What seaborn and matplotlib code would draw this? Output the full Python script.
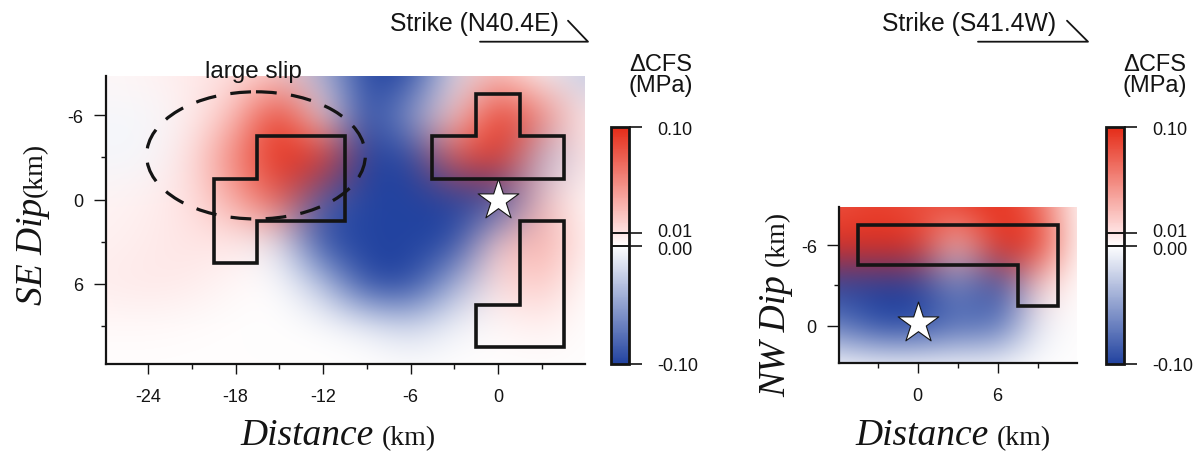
import numpy as np
import matplotlib
matplotlib.use("Agg")
import matplotlib.pyplot as plt
import seaborn as sns
from matplotlib.colors import LinearSegmentedColormap, FuncNorm
from matplotlib.patches import Polygon, Ellipse
from matplotlib.lines import Line2D
from matplotlib.transforms import ScaledTranslation

# ---------------- data ----------------
# Coulomb stress change grid (MPa), left section (SE dip); colours saturate beyond +/-0.10
left_x = [-27, -24, -21, -18, -15, -12, -9, -6, -3, 0, 3, 6]
left_y = [-9, -6, -3, 0, 3, 6, 9, 12]
left_cfs = [
    [0.003, 0.004, 0.008, 0.012, 0.020, -0.040, -0.300, -0.200, -0.015, 0.030, 0.000, -0.030],
    [-0.004, -0.004, 0.006, 0.030, 0.120, 0.005, -0.250, -0.050, 0.015, 0.250, 0.060, 0.006],
    [-0.005, -0.004, 0.012, 0.060, 0.300, 0.250, -0.100, -0.120, 0.080, 0.300, -0.040, 0.012],
    [0.004, 0.006, 0.012, 0.040, 0.080, -0.080, -0.250, -0.250, -0.250, -0.300, 0.030, 0.000],
    [0.005, 0.007, 0.010, 0.008, -0.012, -0.120, -0.300, -0.300, -0.100, 0.020, 0.040, 0.005],
    [0.007, 0.009, 0.007, 0.003, 0.000, -0.030, -0.150, -0.200, -0.040, 0.012, 0.025, 0.000],
    [0.002, 0.002, 0.001, 0.000, 0.000, 0.000, -0.005, -0.020, -0.005, 0.002, 0.006, 0.000],
    [0.000, 0.000, 0.000, 0.000, 0.000, 0.000, 0.000, 0.000, 0.000, 0.000, 0.000, 0.000],
]
# right section (NW dip)
right_x = [-6, -3, 0, 3, 6, 9, 12]
right_y = [-9, -6, -3, 0, 3]
right_cfs = [
    [0.080, 0.090, 0.080, 0.090, 0.100, 0.070, 0.000],
    [0.200, 0.250, 0.120, 0.020, 0.250, 0.200, 0.000],
    [-0.150, -0.250, -0.200, -0.060, -0.150, 0.020, 0.000],
    [-0.070, -0.120, -0.100, -0.080, -0.080, -0.010, 0.000],
    [0.000, 0.000, 0.000, 0.000, 0.000, 0.000, 0.000],
]

# large-slip asperity outlines (km)
left_patch1_x = [-19.5, -19.5, -16.5, -16.5, -10.5, -10.5, -16.5, -16.5]
left_patch1_y = [-1.5, 4.5, 4.5, 1.5, 1.5, -4.5, -4.5, -1.5]
left_patch2_x = [-4.5, -4.5, -1.5, -1.5, 1.5, 1.5, 4.5, 4.5]
left_patch2_y = [-1.5, -4.5, -4.5, -7.5, -7.5, -4.5, -4.5, -1.5]
left_patch3_x = [1.5, 4.5, 4.5, -1.5, -1.5, 1.5]
left_patch3_y = [1.5, 1.5, 10.5, 10.5, 7.5, 7.5]
right_patch_x = [-4.5, 10.5, 10.5, 7.5, 7.5, -4.5]
right_patch_y = [-7.5, -7.5, -1.5, -1.5, -4.5, -4.5]

# large slip region (ellipse centre, width, height in km)
slip_center = (-16.6, -3.15)
slip_size = (15.0, 9.05)
slip_label = "large slip"
slip_label_pos = (-16.8, -9.15)

# hypocentres
left_star_x, left_star_y = [0.0], [0.0]
right_star_x, right_star_y = [0.0], [-0.2]

left_xticks = [-24, -18, -12, -6, 0]
left_xminor = [-21, -15, -9, -3, 3]
left_yticks = [-6, 0, 6]
left_yminor = [-3, 3, 9]
right_xticks = [0, 6]
right_xminor = [-3, 3, 9]
right_yticks = [-6, 0]
right_yminor = [-3]

cbar_ticks = [-0.10, 0.00, 0.01, 0.10]
cbar_ticklabels = ["-0.10", "0.00", "0.01", "0.10"]
cbar_title = "\u0394CFS\n(MPa)"
strike_left = "Strike (N40.4E)"
strike_right = "Strike (S41.4W)"
left_ylabel = ("SE Dip", "(km)")
right_ylabel = ("NW Dip", " (km)")
xlabel = ("Distance", "(km)")

# ---------------- style ----------------
sns.set_theme(style="ticks")
plt.rcParams["font.family"] = ["Liberation Sans", "DejaVu Sans"]
plt.rcParams["axes.unicode_minus"] = False
INK = "#141414"

# colour map with uneven spacing (-0.10 .. 0 .. 0.01 .. 0.10)
cmap = LinearSegmentedColormap.from_list(
    "cfs",
    [(0.0, "#2243a0"), (0.5, "#ffffff"), (0.552, "#ffe4e4"), (1.0, "#e52c18")],
)
_v = [-0.10, 0.0, 0.01, 0.10]
_p = [0.0, 0.5, 0.552, 1.0]
norm = FuncNorm(
    (lambda x: np.interp(np.asarray(x, dtype=float), _v, _p),
     lambda y: np.interp(np.asarray(y, dtype=float), _p, _v)),
    vmin=-0.10, vmax=0.10,
)

W, H = 1199, 452
fig = plt.figure(figsize=(W / 100, H / 100), dpi=100)


def fx(px):
    return px / W


def fy(py):
    return 1 - py / H


axL = fig.add_axes([fx(105.8), fy(365), (584.6 - 105.8) / W, (365 - 77) / H])
axR = fig.add_axes([fx(839), fy(364), (1077 - 839) / W, (364 - 207.7) / H])
caxL = fig.add_axes([fx(610.7), fy(365), (629.3 - 610.7) / W, (365 - 128.3) / H])
caxR = fig.add_axes([fx(1105.7), fy(365), (1124 - 1105.7) / W, (365 - 128.3) / H])


def draw_field(ax, xs, ys, vals):
    xs = np.asarray(xs, float)
    ys = np.asarray(ys, float)
    dx = xs[1] - xs[0]
    dy = ys[1] - ys[0]
    extent = [xs[0] - dx / 2, xs[-1] + dx / 2, ys[-1] + dy / 2, ys[0] - dy / 2]
    im = ax.imshow(np.asarray(vals, float), cmap=cmap, norm=norm, extent=extent,
                   origin="upper", aspect="auto", interpolation="bicubic",
                   interpolation_stage="rgba", zorder=0)
    return im


def outline(ax, px, py):
    ax.add_patch(Polygon(np.column_stack([px, py]), closed=True, fill=False,
                         ec=INK, lw=2.6, joinstyle="miter", zorder=3))


def style_axes(ax, xlim, ylim, xt, xm, yt, ym):
    ax.set_xlim(*xlim)
    ax.set_ylim(ylim[1], ylim[0])
    ax.set_xticks(xt)
    ax.set_xticklabels([str(v) for v in xt])
    ax.set_xticks(xm, minor=True)
    ax.set_yticks(yt)
    ax.set_yticklabels([str(v) for v in yt])
    ax.set_yticks(ym, minor=True)
    sns.despine(ax=ax)
    for s in ("left", "bottom"):
        ax.spines[s].set_linewidth(1.6)
        ax.spines[s].set_color(INK)
    ax.tick_params(axis="x", which="major", length=7, width=1.0, color=INK,
                   labelsize=13, pad=10, labelcolor=INK)
    ax.tick_params(axis="y", which="major", length=9, width=1.0, color=INK,
                   labelsize=13, pad=7, labelcolor=INK)
    ax.tick_params(which="minor", length=3.6, width=1.0, color=INK)
    ax.grid(False)


# left panel
imL = draw_field(axL, left_x, left_y, left_cfs)
outline(axL, left_patch1_x, left_patch1_y)
outline(axL, left_patch2_x, left_patch2_y)
outline(axL, left_patch3_x, left_patch3_y)
axL.add_patch(Ellipse(slip_center, slip_size[0], slip_size[1], fill=False,
                      ec=INK, lw=2.3, ls=(0, (6.5, 4.5)), zorder=3))
axL.text(slip_label_pos[0], slip_label_pos[1], slip_label, ha="center",
         va="center", fontsize=17.5, color=INK, clip_on=False)
sns.scatterplot(x=left_star_x, y=left_star_y, marker="*", s=950, color="white",
                edgecolor=INK, linewidth=0.8, ax=axL, legend=False, zorder=5)
style_axes(axL, (-26.9, 5.94), (-8.8, 11.7), left_xticks, left_xminor,
           left_yticks, left_yminor)

# right panel
imR = draw_field(axR, right_x, right_y, right_cfs)
outline(axR, right_patch_x, right_patch_y)
sns.scatterplot(x=right_star_x, y=right_star_y, marker="*", s=950, color="white",
                edgecolor=INK, linewidth=0.8, ax=axR, legend=False, zorder=5)
style_axes(axR, (-5.9, 11.95), (-8.85, 2.77), right_xticks, right_xminor,
           right_yticks, right_yminor)

# colour bars
label_shift = {"0.01": 2.5, "0.00": -1.5}   # points, to separate the close labels
for cax, im, tx in ((caxL, imL, 661), (caxR, imR, 1155)):
    cb = fig.colorbar(im, cax=cax, ticks=cbar_ticks)
    cb.minorticks_off()
    cb.ax.set_yticklabels(cbar_ticklabels)
    cb.outline.set_linewidth(2.0)
    cb.outline.set_edgecolor(INK)
    cax.tick_params(length=9, width=1.2, color=INK, labelsize=13, pad=11,
                    labelcolor=INK)
    for lab in cax.get_yticklabels():
        dy = label_shift.get(lab.get_text(), 0)
        if dy:
            lab.set_transform(lab.get_transform()
                              + ScaledTranslation(0, dy / 72, fig.dpi_scale_trans))
    for v in (0.0, 0.01):
        cax.axhline(v, color=INK, lw=1.4)
    fig.text(fx(tx), fy(54), cbar_title, ha="center", va="top", fontsize=17,
             linespacing=0.95, color=INK)

# strike annotations
for txt, tx, l0, l1, l2 in ((strike_left, 390, 480, 588, 568),
                            (strike_right, 882, 978, 1088, 1067)):
    fig.text(fx(tx), fy(24), txt, ha="left", va="center", fontsize=17.8, color=INK)
    fig.add_artist(Line2D([fx(l0), fx(l1), fx(l2)], [fy(42.7), fy(42.7), fy(21.7)],
                          transform=fig.transFigure, color=INK, lw=1.3))

# axis labels: italic serif + roman serif units
serif = ["Liberation Serif", "DejaVu Serif"]
fig.canvas.draw()
rend = fig.canvas.get_renderer()


def xlab(x_px, base_px):
    t1 = fig.text(fx(x_px), fy(base_px), xlabel[0], ha="left", va="baseline",
                  fontsize=27, style="italic", family=serif, color=INK)
    e = t1.get_window_extent(rend)
    fig.text((e.x1 + 9) / W, fy(base_px), xlabel[1], ha="left", va="baseline",
             fontsize=20, family=serif, color=INK)


def ylab(base_px, start_px, parts, gap):
    t1 = fig.text(fx(base_px), fy(start_px), parts[0], rotation=90,
                  rotation_mode="anchor", ha="left", va="baseline",
                  fontsize=27, style="italic", family=serif, color=INK)
    e = t1.get_window_extent(rend)
    fig.text(fx(base_px), (e.y1 + gap) / H, parts[1], rotation=90,
             rotation_mode="anchor", ha="left", va="baseline",
             fontsize=20, family=serif, color=INK)


xlab(240, 445)
xlab(855, 445)
ylab(42, 305, left_ylabel, 1)
ylab(785, 397, right_ylabel, 1)

fig.savefig("out.png", dpi=100)
